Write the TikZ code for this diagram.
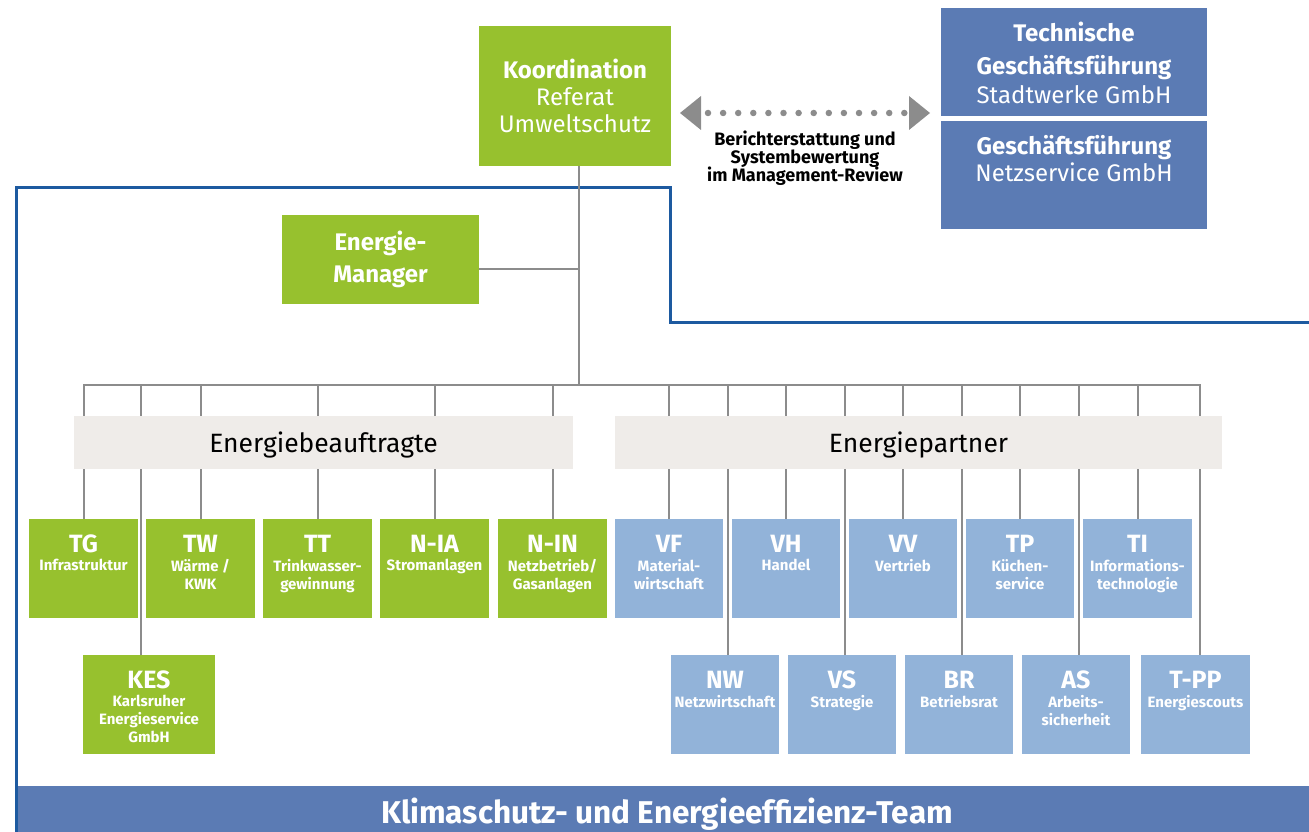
\documentclass[tikz,border=0pt]{standalone}
\usepackage{fontspec}
\setmainfont{Fira Sans}
\definecolor{kgreen}{HTML}{97C12E}
\definecolor{kblue}{HTML}{5B7BB4}
\definecolor{klight}{HTML}{92B3D9}
\definecolor{kband}{HTML}{EFECE9}
\definecolor{kframe}{HTML}{1D5AA0}
\definecolor{kgray}{HTML}{8C8C8C}
\tikzset{
  gbox/.style={fill=kgreen, draw=none, inner sep=0pt},
  bbox/.style={fill=kblue, draw=none, inner sep=0pt},
  lbox/.style={fill=klight, draw=none, inner sep=0pt},
  band/.style={fill=kband, draw=none, inner sep=0pt, text=black, font=\fontsize{26.5}{28}\selectfont},
  conn/.style={draw=kgray, line width=2pt},
  frameline/.style={draw=kframe, line width=3pt},
  ttl/.style={text=white, font=\fontsize{25}{28}\selectfont\bfseries, anchor=base, inner sep=0pt},
  subl/.style={text=white, font=\fontsize{15}{18}\selectfont\bfseries, anchor=north, align=center, inner sep=0pt},
  hdb/.style={text=white, font=\fontsize{24}{27}\selectfont\bfseries, anchor=base, inner sep=0pt},
  hdr/.style={text=white, font=\fontsize{24}{27}\selectfont, anchor=base, inner sep=0pt},
  lbl/.style={text=black, font=\fontsize{18}{18}\selectfont\bfseries, anchor=base, inner sep=0pt},
}
% name, left, top, right, bottom, style, title, sub
\newcommand\orgbox[8]{%
  \node[#6, minimum width={(#4-#2)*1pt}, minimum height={(#5-#3)*1pt}] (#1) at ({(#2+#4)/2},{(#3+#5)/2}) {};
  \node[ttl] (#1-t) at ([yshift=-34pt]#1.north) {#7};
  \node[subl] (#1-s) at ([yshift=-40.5pt]#1.north) {#8};
}
\begin{document}
\begin{tikzpicture}[x=1pt,y=-1pt]
\useasboundingbox (0,0) rectangle (1309,832);

% frame of the team
\coordinate (fA) at (16,832);
\coordinate (fB) at (16,187);
\coordinate (fC) at (670,187);
\coordinate (fD) at (670,322);
\coordinate (fE) at (1312,322);
\draw[frameline] (fA) -- (fB) -- (fC) -- (fD) -- (fE);

% top nodes
\node[gbox, minimum width=192pt, minimum height=140pt] (koord) at (575,96) {};
\node[hdb] at (575,79) {Koordination};
\node[hdr] at (575,106) {Referat};
\node[hdr] at (575,133) {Umweltschutz};

\node[bbox, minimum width=266pt, minimum height=108pt] (tgf) at (1074,62) {};
\node[hdb] at (1074,42) {Technische};
\node[hdb] at (1074,75) {Geschäftsführung};
\node[hdr] at (1074,104) {Stadtwerke GmbH};

\node[bbox, minimum width=266pt, minimum height=108pt] (ngf) at (1074,175) {};
\node[hdb] at (1074,154) {Geschäftsführung};
\node[hdr] at (1074,182) {Netzservice GmbH};

% reporting arrow
\coordinate (aL) at (680,113);
\coordinate (aR) at (930,113);
\fill[kgray] (aL) -- ++(21,-17) -- ++(0,34) -- cycle;
\fill[kgray] (aR) -- ++(-21,-17) -- ++(0,34) -- cycle;
\draw[kgray, line width=6.5pt, line cap=round, dash pattern=on 0pt off 15.1pt] (708,113) -- (906,113);
\node[lbl] at (805,146) {Berichterstattung und};
\node[lbl] at (805,164) {Systembewertung};
\node[lbl] at (805,182) {im Management-Review};

% Energie-Manager
\node[gbox, minimum width=197pt, minimum height=89pt] (em) at (380.5,259.5) {};
\node[hdb] at (380.5,250) {Energie-};
\node[hdb] at (380.5,282) {Manager};

\coordinate (hub) at (579,385);
\coordinate (busL) at (84,385);
\coordinate (busR) at (1200,385);
\coordinate (emj) at (579,269);
\draw[conn] (koord.south -| hub) -- (hub);
\draw[conn] (em.east |- emj) -- (emj);
\draw[conn, line cap=rect] (busL) -- (busR);

% boxes
\orgbox{tg}{29}{519}{138}{618}{gbox}{TG}{Infrastruktur}
\orgbox{tw}{146}{519}{255}{618}{gbox}{TW}{Wärme /\\KWK}
\orgbox{tt}{263}{519}{372}{618}{gbox}{TT}{Trinkwasser-\\gewinnung}
\orgbox{nia}{380}{519}{489}{618}{gbox}{N-IA}{Stromanlagen}
\orgbox{nin}{498}{519}{607}{618}{gbox}{N-IN}{Netzbetrieb/\\Gasanlagen}
\orgbox{kes}{83}{655}{215}{754}{gbox}{KES}{Karlsruher\\Energieservice\\GmbH}

\orgbox{vf}{615}{519}{723}{618}{lbox}{VF}{Material-\\wirtschaft}
\orgbox{vh}{732}{519}{840}{618}{lbox}{VH}{Handel}
\orgbox{vv}{849}{519}{957}{618}{lbox}{VV}{Vertrieb}
\orgbox{tp}{966}{519}{1074}{618}{lbox}{TP}{Küchen-\\service}
\orgbox{ti}{1083}{519}{1192}{618}{lbox}{TI}{Informations-\\technologie}
\orgbox{nw}{671}{655}{779}{754}{lbox}{NW}{Netzwirtschaft}
\orgbox{vs}{788}{655}{896}{754}{lbox}{VS}{Strategie}
\orgbox{br}{905}{655}{1013}{754}{lbox}{BR}{Betriebsrat}
\orgbox{as}{1022}{655}{1130}{754}{lbox}{AS}{Arbeits-\\sicherheit}
\orgbox{tpp}{1141}{655}{1250}{754}{lbox}{T-PP}{Energiescouts}

% drop lines
\coordinate (kesj) at (141,385);
\coordinate (nwj) at (728,385);
\coordinate (vsj) at (845,385);
\coordinate (brj) at (962,385);
\coordinate (asj) at (1079,385);
\coordinate (tppj) at (1200,385);
\foreach \n in {tg,tw,tt,nia,nin,vf,vh,vv,tp,ti}
  \draw[conn] (\n.north) -- (\n.north |- busL);
\draw[conn] (kesj) -- (kesj |- kes.north);
\draw[conn] (nwj) -- (nwj |- nw.north);
\draw[conn] (vsj) -- (vsj |- vs.north);
\draw[conn] (brj) -- (brj |- br.north);
\draw[conn] (asj) -- (asj |- as.north);
\draw[conn] (tppj) -- (tppj |- tpp.north);

% bands
\node[band, minimum width=499pt, minimum height=53pt] (eb) at (323.5,442.5) {};
\node[band, anchor=base] at (323.5,452) {Energiebeauftragte};
\node[band, minimum width=607pt, minimum height=53pt] (ep) at (918.5,442.5) {};
\node[band, anchor=base] at (918.5,452) {Energiepartner};

% team bar
\node[bbox, minimum width=1293pt, minimum height=46pt] (team) at (662.5,809) {};
\node[text=white, font=\fontsize{31.5}{32}\selectfont\bfseries, anchor=base, inner sep=0pt] at (667,823) {Klimaschutz- und Energieeffizienz-Team};
\draw[frameline] (16,786) -- (fA);
\end{tikzpicture}
\end{document}
